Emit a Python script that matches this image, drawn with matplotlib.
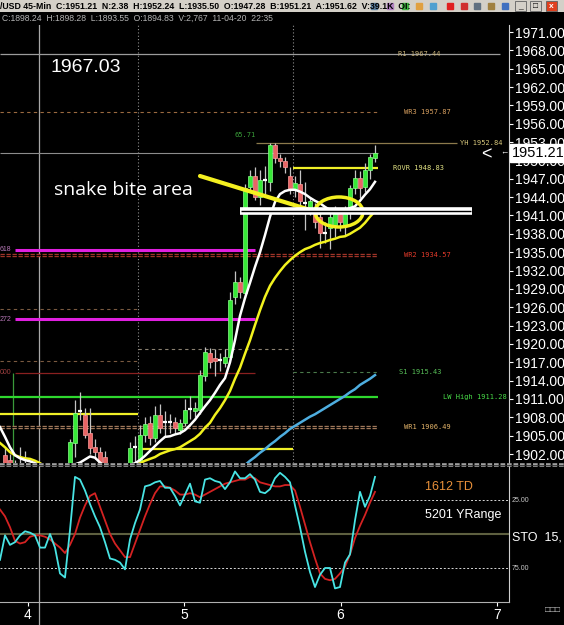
import numpy as np
import matplotlib
matplotlib.use('Agg')
import matplotlib.pyplot as plt
import matplotlib.transforms as mtransforms
from matplotlib.patches import Rectangle, Ellipse
from matplotlib.lines import Line2D

# 45-min bars (prices)
opens = [1901.8, 1901.0, 1899.5, 1899.0, 1898.0, 1897.5, 1896.5, 1895.5, 1894.8, 1898.0,
         1897.0, 1898.0, 1899.0, 1898.5, 1903.8, 1908.9, 1908.4, 1905.4, 1903.2, 1902.3,
         1901.5, 1899.0, 1898.5, 1898.0, 1899.0, 1900.0, 1903.0, 1900.8, 1905.1, 1907.1,
         1904.6, 1908.4, 1907.2, 1907.4, 1907.3, 1905.9, 1907.1, 1909.2, 1909.0, 1909.2,
         1914.7, 1918.5, 1917.7, 1917.2, 1916.9, 1917.9, 1927.7, 1930.2, 1928.3, 1945.7,
         1947.4, 1944.1, 1946.8, 1946.5, 1952.5, 1950.4, 1949.9, 1947.4, 1945.2, 1946.2,
         1943.1, 1942.2, 1942.2, 1940.8, 1938.1, 1938.9, 1939.4, 1941.4, 1939.4, 1941.4,
         1945.5, 1947.1, 1945.7, 1948.4, 1950.4]
highs = [1903.0, 1902.0, 1901.0, 1903.1, 1902.5, 1899.5, 1898.5, 1897.5, 1898.3, 1899.5,
         1899.0, 1900.0, 1900.3, 1904.5, 1910.8, 1912.1, 1909.5, 1909.5, 1904.5, 1903.2,
         1902.5, 1900.2, 1899.8, 1899.5, 1900.2, 1904.0, 1905.0, 1906.8, 1908.0, 1908.2,
         1909.8, 1910.2, 1909.0, 1908.5, 1908.0, 1907.8, 1911.0, 1911.5, 1910.5, 1915.8,
         1919.5, 1919.4, 1919.2, 1918.5, 1919.2, 1928.5, 1932.0, 1931.0, 1946.2, 1948.4,
         1949.0, 1948.4, 1949.1, 1952.8, 1952.84, 1951.0, 1950.5, 1949.0, 1947.5, 1948.4,
         1946.5, 1944.0, 1943.0, 1942.0, 1940.0, 1942.0, 1942.5, 1942.3, 1942.5, 1946.0,
         1948.5, 1948.2, 1949.5, 1951.0, 1952.5]
lows = [1899.0, 1898.5, 1897.5, 1897.5, 1896.5, 1895.5, 1894.5, 1893.5, 1893.6, 1896.0,
        1895.5, 1896.5, 1897.0, 1898.0, 1901.5, 1907.5, 1904.6, 1902.0, 1901.2, 1899.5,
        1898.5, 1897.5, 1897.0, 1896.5, 1897.5, 1899.5, 1900.0, 1900.0, 1904.0, 1903.5,
        1904.0, 1905.5, 1905.0, 1905.5, 1905.4, 1905.2, 1906.5, 1907.8, 1908.0, 1908.5,
        1914.0, 1916.0, 1914.8, 1915.5, 1916.3, 1917.5, 1926.5, 1927.5, 1927.5, 1944.8,
        1943.5, 1942.7, 1944.0, 1945.0, 1949.5, 1949.0, 1948.0, 1944.5, 1944.0, 1942.0,
        1938.6, 1941.0, 1939.0, 1935.7, 1936.5, 1935.6, 1937.5, 1938.5, 1937.8, 1940.5,
        1944.5, 1943.8, 1944.8, 1947.0, 1949.8]
closes = [1900.2, 1899.5, 1898.5, 1898.0, 1897.5, 1896.5, 1895.5, 1894.5, 1898.2, 1897.0,
          1898.0, 1899.0, 1898.5, 1904.0, 1908.7, 1909.2, 1905.1, 1903.0, 1902.3, 1900.0,
          1899.2, 1898.5, 1898.0, 1899.0, 1900.0, 1903.0, 1903.2, 1905.1, 1906.9, 1904.6,
          1908.4, 1906.2, 1907.4, 1907.2, 1906.2, 1907.1, 1909.2, 1909.4, 1909.6, 1914.9,
          1918.7, 1917.0, 1917.2, 1917.4, 1917.9, 1927.2, 1930.2, 1928.5, 1945.5, 1947.4,
          1944.1, 1946.8, 1946.9, 1952.5, 1950.4, 1949.9, 1949.0, 1945.2, 1946.3, 1943.3,
          1943.0, 1943.3, 1940.0, 1938.1, 1938.3, 1940.8, 1941.4, 1939.9, 1941.4, 1945.5,
          1947.1, 1945.5, 1948.4, 1950.6, 1951.21]

# moving averages (one value per bar slot, the first slot is the left edge)
ma_fast = [1906.4, 1904.8, 1903.1, 1901.8, 1901.3, 1901.0, 1900.8, 1900.5, 1900.0, 1899.6,
           1899.3, 1899.2, 1899.4, 1899.8, 1900.1, 1900.3, 1900.6, 1901.1, 1901.6, 1901.4,
           1900.6, 1900.0, 1899.6, 1899.4, 1899.5, 1899.8, 1900.2, 1900.5, 1901.0, 1901.7,
           1902.5, 1903.3, 1904.1, 1904.8, 1904.9, 1905.2, 1905.4, 1905.9, 1906.7, 1907.6,
           1908.7, 1909.8, 1910.8, 1912.0, 1913.3, 1914.4, 1917.0, 1920.6, 1924.6, 1927.5,
           1930.0, 1932.6, 1935.0, 1937.8, 1940.8, 1943.2, 1944.5, 1945.0, 1945.2, 1945.2,
           1944.9, 1944.5, 1943.9, 1943.4, 1943.0, 1942.4, 1941.9, 1941.7, 1941.7, 1941.9,
           1942.2, 1942.5, 1943.4, 1944.4, 1945.3, 1946.5]
ma_mid = [1903.8, 1903.1, 1902.3, 1901.8, 1901.5, 1901.3, 1901.2, 1900.9, 1900.5, 1900.0,
          1899.5, 1899.2, 1899.0, 1898.9, 1898.9, 1899.0, 1899.1, 1899.2, 1899.3, 1899.4,
          1899.4, 1899.4, 1899.5, 1899.6, 1899.7, 1899.8, 1900.0, 1900.2, 1900.5, 1900.9,
          1901.2, 1901.5, 1902.0, 1902.3, 1902.6, 1902.8, 1903.1, 1903.6, 1904.1, 1904.6,
          1905.3, 1906.3, 1907.1, 1908.4, 1909.5, 1910.8, 1912.3, 1914.3, 1916.1, 1918.4,
          1920.6, 1923.1, 1925.5, 1927.7, 1929.5, 1930.8, 1931.9, 1932.9, 1933.7, 1934.4,
          1935.0, 1935.5, 1935.8, 1936.2, 1936.5, 1936.7, 1937.0, 1937.2, 1937.5, 1937.6,
          1938.0, 1938.5, 1939.0, 1939.8, 1940.8, 1941.7]
ma_slow_start = 45
ma_slow = [1898.8, 1899.2, 1899.5, 1899.9, 1900.2, 1900.9, 1901.5, 1902.2, 1902.8, 1903.5,
           1904.1, 1904.8, 1905.4, 1906.1, 1906.6, 1907.1, 1907.6, 1908.1, 1908.5, 1909.0,
           1909.5, 1910.0, 1910.5, 1911.0, 1911.5, 1912.1, 1912.6, 1913.3, 1913.8, 1914.3,
           1914.9]

# stochastic (same slots)
sto_k = [69, 51, 58, 56, 51, 48, 49, 51, 60, 60, 50, 60, 79, 82, 47, 8, 10, 18, 28, 37,
         45, 56, 68, 69, 71, 76, 54, 42, 32, 15, 14, 12, 11, 16, 16, 22, 29, 21, 13, 26,
         27, 10, 9, 11, 12, 17, 12, 4, 9, 9, 6, 10, 19, 20, 17, 9, 5, 8, 12, 29,
         45, 63, 78, 89, 80, 75, 75, 90, 89, 71, 65, 40, 19, 30, 22, 8]
sto_d = [32, 37, 45, 55, 57, 56, 52, 51, 51, 52, 54, 57, 60, 64, 58, 50, 38, 29, 22, 20,
         30, 40, 50, 57, 62, 67, 67, 57, 47, 37, 28, 20, 15, 15, 16, 18, 21, 21, 20, 21,
         23, 21, 19, 17, 15, 13, 12, 11, 10, 10, 8, 9, 12, 13, 14, 15, 15, 14, 14, 18,
         30, 43, 56, 68, 79, 83, 84, 83, 79, 74, 65, 53, 44, 36, 27, 19]

# pivot levels
pivot_names = ['R1', 'WR3', 'YH', 'ROVR', 'WR2', 'S1', 'LW High', 'WR1']
pivot_values = [1967.44, 1957.87, 1952.84, 1948.83, 1934.57, 1915.43, 1911.28, 1906.49]
fib_labels = ['618', '272', '000']
fib_values = [1935.36, 1924.07, 1915.25]
last_price = 1951.21
prev_session_dashes = [1925.7, 1917.2]
session_dash = [1919.2]
yellow_levels = [1908.6, 1902.8]
price_ticks = np.arange(1902, 1972, 3)
day_ticks = [4, 5, 6, 7]

W, H = 564, 625
PX_PER_DAY = 156.3
PX_PER_PT = 6.116
XMIN = 4 - 28 / PX_PER_DAY
XMAX = XMIN + 509 / PX_PER_DAY
SLOT = 5 / PX_PER_DAY


def day(px):
    return XMIN + px / PX_PER_DAY


def fx(px):
    return px / W


def fy(py):
    return 1 - py / H


plt.rcParams['font.family'] = ['Liberation Sans', 'DejaVu Sans']
fig = plt.figure(figsize=(W / 100, H / 100), dpi=100, facecolor='black')

# ---------- price panel ----------
ax = fig.add_axes([0, fy(463), fx(509), (463 - 25) / H], facecolor='black')
ax.set_xlim(XMIN, XMAX)
ax.set_ylim(1971 - 431 / PX_PER_PT, 1971 + 7 / PX_PER_PT)
for s in ['top', 'left', 'bottom']:
    ax.spines[s].set_visible(False)
ax.spines['right'].set_color('#d0d0d0')
ax.yaxis.tick_right()
ax.set_yticks(price_ticks)
ax.set_yticklabels([f'{v:.2f}' for v in price_ticks])
ax.tick_params(axis='y', colors='white', labelsize=10, length=3, pad=1, width=0.8)
ax.tick_params(axis='x', bottom=False, labelbottom=False)

# vertical separators
ax.axvline(day(39), color='#a8a8a8', lw=0.9, zorder=1)
for px in (138, 293):
    ax.axvline(day(px), color='#909090', lw=0.8, ls=(0, (1, 2)), zorder=1)
ax.vlines(day(13), ax.get_ylim()[0], fib_values[2], color='#3a9a3a', lw=0.9, zorder=1)

# levels
level_style = {
    'R1': (0, 500, '#9c9c9c', 'solid', 398, '#c8b27a'),
    'WR3': (0, 378, '#9a6a40', 'dashed', 404, '#d8a060'),
    'YH': (256, 457, '#8c7a4c', 'solid', 460, '#d8c87c'),
    'ROVR': (293, 378, '#f0f028', 'solid', 393, '#e4e484'),
    'WR2': (0, 378, '#a03428', 'dots', 404, '#e23a2a'),
    'S1': (293, 378, '#4a7a4a', 'dashed', 399, '#58c058'),
    'LW High': (0, 378, '#2ed82e', 'solid', 443, '#48dc48'),
    'WR1': (0, 378, '#a0785a', 'dots', 404, '#e4b46a'),
}
for name, val in zip(pivot_names, pivot_values):
    px0, px1, col, kind, lab_px, lab_col = level_style[name]
    x0, x1 = day(px0), day(px1)
    if kind == 'dots':
        ax.hlines(val, x0, x1, color=col, lw=2.4, linestyles=(0, (1.3, 0.5)), zorder=2)
        ax.hlines(val, x0, x1, color='black', lw=0.6, zorder=2)
    elif kind == 'dashed':
        ax.hlines(val, x0, x1, color=col, lw=0.8, linestyles=(0, (3, 3)), zorder=2)
    else:
        lw = 1.6 if name in ('LW High', 'ROVR') else 0.9
        ax.hlines(val, x0, x1, color=col, lw=lw, zorder=2)
    ax.text(day(lab_px), val, f'{name} {val:.2f}', color=lab_col, fontsize=5,
            family='DejaVu Sans Mono', va='center', ha='left', zorder=6)

ax.hlines(last_price, day(0), day(378), color='#8c8c8c', lw=0.8, zorder=2)
fib_colors = ['#e020e0', '#e020e0', '#8a2020']
fib_widths = [2.2, 2.2, 0.9]
fib_text = ['#b878b8', '#b878b8', '#a04040']
for lab, val, c, lw, tc in zip(fib_labels, fib_values, fib_colors, fib_widths, fib_text):
    ax.hlines(val, day(15), day(255), color=c, lw=lw, zorder=2)
    ax.text(day(0), val, lab, color=tc, fontsize=5, va='center', ha='left', zorder=6)
for val in prev_session_dashes:
    ax.hlines(val, day(0), day(138), color='#7a5a40', lw=0.8, linestyles=(0, (3, 3)), zorder=2)
for val in session_dash:
    ax.hlines(val, day(138), day(293), color='#8a8070', lw=0.8, linestyles=(0, (3, 3)), zorder=2)
ax.hlines(yellow_levels[0], day(0), day(138), color='#f0f028', lw=1.6, zorder=2)
ax.hlines(yellow_levels[1], day(138), day(293), color='#f0f028', lw=1.6, zorder=2)

# candles
cx = XMIN + SLOT * (1 + np.arange(len(opens)))
bw = SLOT * 0.8
o = np.array(opens)
c = np.array(closes)
ax.vlines(cx, lows, highs, color='#c4c4c4', lw=0.9, zorder=3)
doji = np.abs(c - o) < 0.35
up = (c > o) & ~doji
dn = (c < o) & ~doji
ax.bar(cx[up], (c - o)[up], bottom=o[up], width=bw, color='#36e836',
       edgecolor='#8cff8c', lw=0.5, zorder=4)
ax.bar(cx[dn], (c - o)[dn], bottom=o[dn], width=bw, color='#e86464',
       edgecolor='#ff9c9c', lw=0.5, zorder=4)
ax.hlines((o + c)[doji] / 2, cx[doji] - bw / 2, cx[doji] + bw / 2, color='white', lw=1.6, zorder=4)

# moving averages
ax.plot(XMIN + SLOT * (ma_slow_start + np.arange(len(ma_slow))), ma_slow,
        color='#4eaee0', lw=1.8, zorder=5)
ax.plot(XMIN + SLOT * np.arange(len(ma_mid)), ma_mid, color='#f2f21e', lw=1.8, zorder=5)
ax.plot(XMIN + SLOT * np.arange(len(ma_fast)), ma_fast, color='white', lw=1.8, zorder=5)

# hand drawn annotations
ax.plot([day(200), day(320)], [1971 - 144 / PX_PER_PT, 1971 - 181 / PX_PER_PT],
        color='#f4f020', lw=3, solid_capstyle='round', zorder=6)
ax.add_patch(Ellipse((day(339), 1971 - 180 / PX_PER_PT), 48 / PX_PER_DAY, 30 / PX_PER_PT,
                     fill=False, edgecolor='#f4f020', lw=2.5, zorder=6))
bar_y = 1971 - 179 / PX_PER_PT
ax.hlines(bar_y, day(240), day(472), color='white', lw=5.5, zorder=6)
ax.hlines(bar_y, day(241), day(471), color='black', lw=1.0, zorder=6)

# current price box
trans = mtransforms.blended_transform_factory(ax.transAxes, ax.transData)
ax.text(1.005, last_price, '1951.21', transform=trans, ha='left', va='center',
        fontsize=10.5, color='black', clip_on=False, zorder=10,
        bbox=dict(facecolor='white', edgecolor='white', pad=1.2))
fig.text(fx(481), fy(155), '<', color='white', fontsize=13, va='center', ha='left')
fig.text(fx(500), fy(153), '←', color='white', fontsize=6, va='center', ha='left')

fig.text(fx(50), fy(68), '1967.03', color='white', fontsize=14, va='center')
fig.text(fx(54), fy(190), 'snake bite area', color='white', fontsize=14,
         family='Open Sans', va='center')
ax.text(day(234), 1971 - 103 / PX_PER_PT, '65.71', color='#3aa03a', fontsize=5,
        family='DejaVu Sans Mono', va='center', zorder=6)

# ---------- stochastic panel ----------
ax2 = fig.add_axes([0, fy(602), fx(509), 136 / H], facecolor='black')
ax2.set_xlim(XMIN, XMAX)
ax2.set_ylim(100, 0)
for s in ['top', 'left']:
    ax2.spines[s].set_visible(False)
ax2.spines['right'].set_color('#d0d0d0')
ax2.spines['bottom'].set_color('#b0b0b0')
ax2.set_yticks([])
ax2.set_xticks(day_ticks)
ax2.set_xticklabels([str(d) for d in day_ticks])
ax2.tick_params(axis='x', colors='white', labelsize=10, length=3, pad=1)
ax2.axhline(25, color='#d8d8d8', lw=0.7, ls=(0, (2, 2)))
ax2.axhline(75, color='#d8d8d8', lw=0.7, ls=(0, (2, 2)))
ax2.axhline(50, color='#5e6040', lw=1.5)
ax2.axvline(day(39), ymin=-0.17, ymax=1, color='#a8a8a8', lw=0.9, clip_on=False)
ax2.plot(XMIN + SLOT * np.arange(len(sto_d)), sto_d, color='#d42222', lw=1.3)
ax2.plot(XMIN + SLOT * np.arange(len(sto_k)), sto_k, color='#48e4e4', lw=1.3)

fig.text(fx(425), fy(487), '1612 TD', color='#e8903a', fontsize=9, va='center')
fig.text(fx(425), fy(515), '5201 YRange', color='white', fontsize=9, va='center')
fig.text(fx(512), fy(500), '25.00', color='#c8c8c8', fontsize=5, va='center')
fig.text(fx(512), fy(568), '75.00', color='#c8c8c8', fontsize=5, va='center')
fig.text(fx(512), fy(537), 'STO  15,', color='white', fontsize=9, va='center')
fig.text(fx(545), fy(611), '□□□', color='#c8c8c8', fontsize=6, va='center')

# separator between panels
fig.add_artist(Line2D([0, 1], [fy(465), fy(465)], transform=fig.transFigure,
                      color='#a0a0a0', lw=2.6, ls=(0, (1.3, 0.5))))
fig.add_artist(Line2D([0, 1], [fy(465), fy(465)], transform=fig.transFigure,
                      color='#303030', lw=0.6))

# ---------- header ----------
fig.add_artist(Rectangle((0, fy(12)), 1, 12 / H, transform=fig.transFigure,
                         facecolor='#d4d0c8', edgecolor='none'))
fig.text(fx(0), fy(6.5), '/USD 45-Min  C:1951.21  N:2.38  H:1952.24  L:1935.50  O:1947.28  '
         'B:1951.21  A:1951.62  V:39.1K  OI:', color='black', fontsize=6.3, weight='bold',
         family=['Liberation Sans Narrow', 'Liberation Sans'], va='center')
fig.text(fx(2), fy(18.5), 'C:1898.24  H:1898.28  L:1893.55  O:1894.83  V:2,767  11-04-20  22:35',
         color='#b4b4b4', fontsize=6.2, family=['Liberation Sans Narrow', 'Liberation Sans'],
         va='center')
icon_px = [374, 390, 405, 419, 433, 450, 464, 477, 491, 505]
icon_col = ['#5a7fa0', '#b080c0', '#40b040', '#e0a040', '#50a0d0',
            '#e02020', '#d03030', '#607080', '#a08040', '#4070c0']
for px, col in zip(icon_px, icon_col):
    fig.add_artist(Line2D([fx(px)], [fy(6)], transform=fig.transFigure, marker='s',
                          markersize=4, color=col, lw=0))
for px0, fc in [(515, '#d4d0c8'), (530, '#d4d0c8'), (546, '#e0401e')]:
    fig.add_artist(Rectangle((fx(px0), fy(11)), 11 / W, 10 / H, transform=fig.transFigure,
                             facecolor=fc, edgecolor='#606060', lw=0.6))
fig.text(fx(551.5), fy(6), 'x', color='white', fontsize=6, weight='bold', ha='center', va='center')
fig.text(fx(520.5), fy(7), '_', color='black', fontsize=6, ha='center', va='center')
fig.text(fx(535.5), fy(6), '□', color='black', fontsize=6, ha='center', va='center')

fig.savefig('out.png', dpi=100, facecolor='black')
